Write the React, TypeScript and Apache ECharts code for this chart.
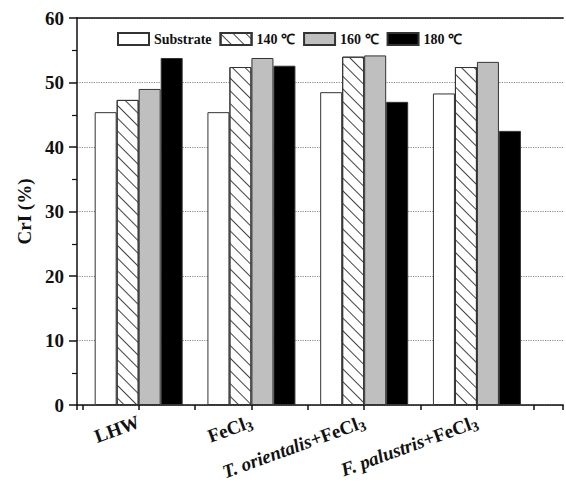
import React, { useEffect, useRef } from "react";
import * as echarts from "echarts";

const categories = ["LHW", "FeCl3", "T. orientalis+FeCl3", "F. palustris+FeCl3"];
const positions = [1, 2, 3, 4];
const seriesNames = ["Substrate", "140 ℃", "160 ℃", "180 ℃"];
const substrate = [45.4, 45.4, 48.5, 48.3];
const t140 = [47.3, 52.4, 54.0, 52.4];
const t160 = [49.0, 53.8, 54.2, 53.2];
const t180 = [53.8, 52.6, 47.0, 42.5];
const yTicks = [0, 10, 20, 30, 40, 50, 60];

const labelRich: Record<string, string> = {
  "LHW": "{b|LHW}",
  "FeCl3": "{b|FeCl}{s|3}",
  "T. orientalis+FeCl3": "{i|T. orientalis}{b|+FeCl}{s|3}",
  "F. palustris+FeCl3": "{i|F. palustris}{b|+FeCl}{s|3}",
};

const FONT = "Liberation Serif";

export default function App() {
  const ref = useRef<HTMLDivElement>(null);
  useEffect(() => {
    if (!ref.current) return;
    const chart = echarts.init(ref.current, null, { renderer: "svg" });
    const toData = (arr: number[]) => arr.map((v, i) => [positions[i], v]);
    const border = { borderColor: "#333", borderWidth: 1 };
    const mk = (name: string, arr: number[], style: any) => ({
      type: "bar",
      name,
      xAxisIndex: 0,
      data: toData(arr),
      barWidth: 22,
      barGap: "0%",
      itemStyle: { ...border, ...style },
    });
    chart.setOption({
      animation: false,
      textStyle: { fontFamily: FONT },
      grid: { left: 77, right: 0, top: 18, bottom: 88 },
      legend: {
        left: 112,
        top: 27,
        icon: "rect",
        itemWidth: 31,
        itemHeight: 12,
        itemGap: 8,
        textStyle: { fontFamily: FONT, fontWeight: "bold", fontSize: 14, color: "#111" },
        data: seriesNames,
      },
      xAxis: [
        {
          type: "value",
          min: 0.453,
          max: 4.765,
          splitNumber: 9,
          minInterval: 0.5,
          maxInterval: 0.5,
          splitLine: { show: false },
          axisLine: { show: true, lineStyle: { color: "#111", width: 1.5 } },
          axisTick: { show: true, length: 5, lineStyle: { color: "#111", width: 1.5 } },
          axisLabel: {
            rotate: 20,
            margin: 16,
            formatter: (v: number) => {
              const idx = positions.indexOf(Math.round(v * 1000) / 1000);
              return idx >= 0 ? labelRich[categories[idx]] : "";
            },
            rich: {
              b: { fontFamily: FONT, fontWeight: "bold", fontSize: 19, color: "#111" },
              i: { fontFamily: FONT, fontWeight: "bold", fontStyle: "italic", fontSize: 19, color: "#111" },
              s: { fontFamily: FONT, fontWeight: "bold", fontSize: 14, color: "#111", padding: [10, 0, 0, 0] },
            },
          },
        },
        {
          type: "value",
          position: "top",
          min: 0.453,
          max: 4.765,
          axisLine: { show: true, lineStyle: { color: "#111", width: 1.5 } },
          axisTick: { show: false },
          axisLabel: { show: false },
          splitLine: { show: false },
        },
      ],
      yAxis: {
        type: "value",
        min: yTicks[0],
        max: yTicks[yTicks.length - 1],
        interval: 10,
        name: "CrI (%)",
        nameLocation: "middle",
        nameGap: 42,
        nameTextStyle: { fontFamily: FONT, fontWeight: "bold", fontSize: 19, color: "#111" },
        axisLine: { show: true, lineStyle: { color: "#111", width: 1.5 } },
        axisTick: { show: true, length: 8, lineStyle: { color: "#111", width: 1.5 } },
        minorTick: { show: true, splitNumber: 2, length: 5, lineStyle: { color: "#111", width: 1.2 } },
        axisLabel: { fontFamily: FONT, fontWeight: "bold", fontSize: 19, color: "#111", margin: 13 },
        splitLine: {
          show: true,
          lineStyle: { type: "dotted", color: "#888", width: 1.2 },
        },
      },
      series: [
        mk(seriesNames[0], substrate, { color: "#ffffff" }),
        mk(seriesNames[1], t140, {
          color: "#ffffff",
          decal: {
            symbol: "rect",
            symbolSize: 1,
            color: "#444",
            dashArrayX: [1, 0],
            dashArrayY: [1, 8],
            rotation: Math.PI / 4,
          },
        }),
        mk(seriesNames[2], t160, { color: "#bfbfbf" }),
        mk(seriesNames[3], t180, { color: "#000000" }),
      ],
    });
    return () => chart.dispose();
  }, []);
  return (
    <div
      ref={ref}
      style={{ position: "fixed", left: 0, top: 0, width: 566, height: 493, background: "#fff" }}
    />
  );
}
